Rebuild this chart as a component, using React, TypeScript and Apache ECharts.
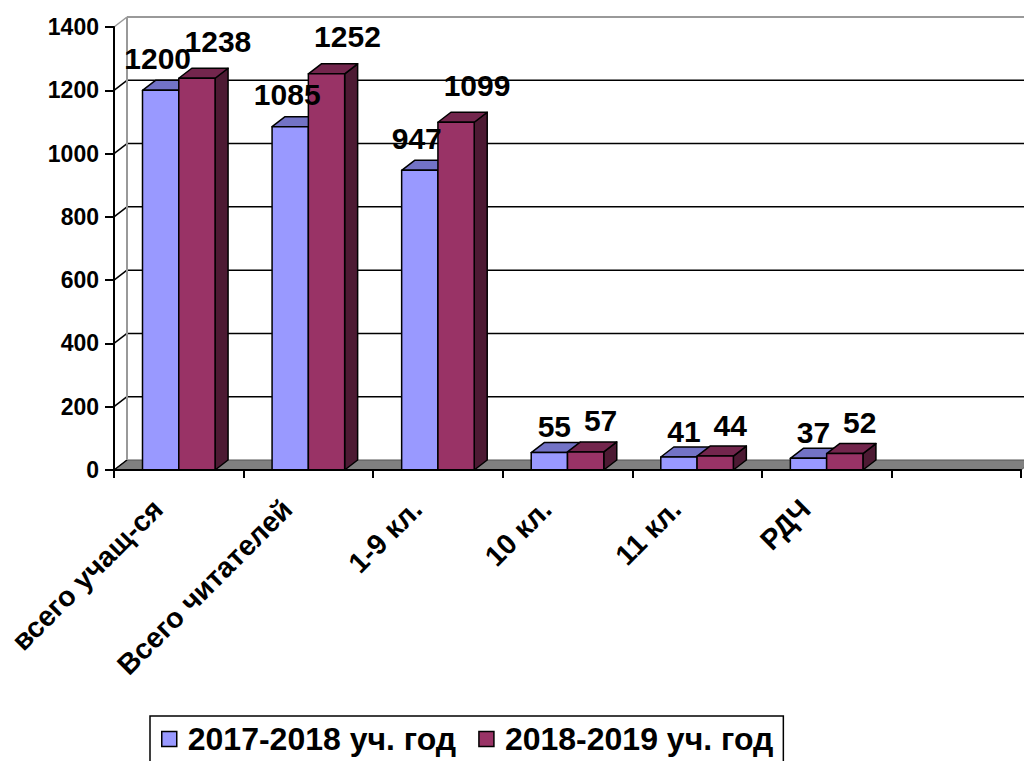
import React, { useEffect, useRef } from "react";
import * as echarts from "echarts";

const categories = ["всего учащ-ся", "Всего читателей", "1-9 кл.", "10 кл.", "11 кл.", "РДЧ", ""];
const seriesNames = ["2017-2018 уч. год", "2018-2019 уч. год"];
const values2017 = [1200, 1085, 947, 55, 41, 37];
const values2018 = [1238, 1252, 1099, 57, 44, 52];
const yTicks = [0, 200, 400, 600, 800, 1000, 1200, 1400];

const FONT = '"Liberation Sans", Arial, sans-serif';
const DX = 13;
const DY = -10;
const BAR_FRAC = 0.28;

const palettes = [
  { front: "#9999FF", top: "#7373C6", side: "#5C5C99" },
  { front: "#993366", top: "#73264D", side: "#4D1A33" },
];

function barGeom(api: any, s: number) {
  const i = api.value(0);
  const v = api.value(1);
  const base = api.coord([i, 0]);
  const top = api.coord([i, v]);
  const bw = api.size([1, 0])[0];
  const w = bw * BAR_FRAC;
  const x0 = s === 0 ? base[0] - w : base[0];
  return { x0, x1: x0 + w, yb: base[1], yt: top[1], v, w };
}

function makeBarRender(s: number) {
  return (params: any, api: any) => {
    const { x0, x1, yb, yt } = barGeom(api, s);
    const p = palettes[s];
    const st = { stroke: "#000", lineWidth: 1.5, lineJoin: "round" };
    return {
      type: "group",
      children: [
        {
          type: "polygon",
          shape: { points: [[x1, yt], [x1 + DX, yt + DY], [x1 + DX, yb + DY], [x1, yb]] },
          style: { fill: p.side, ...st },
        },
        {
          type: "polygon",
          shape: { points: [[x0, yt], [x1, yt], [x1 + DX, yt + DY], [x0 + DX, yt + DY]] },
          style: { fill: p.top, ...st },
        },
        {
          type: "rect",
          shape: { x: x0, y: yt, width: x1 - x0, height: yb - yt },
          style: { fill: p.front, ...st },
        },
      ],
    };
  };
}

function makeLabelRender(s: number) {
  return (params: any, api: any) => {
    const { x0, x1, yt, v } = barGeom(api, s);
    const small = v < 100;
    const cx = (x0 + x1) / 2 + (s === 0 ? (small ? 5 : -3) : (small ? 15 : 21));
    const cy = yt - (s === 0 ? (small ? 11 : 17) : (small ? 16 : 22));
    return {
      type: "text",
      style: {
        text: String(v),
        x: cx,
        y: cy,
        align: "center",
        verticalAlign: "bottom",
        fontSize: 30,
        fontWeight: "bold",
        fontFamily: FONT,
        fill: "#000",
      },
    };
  };
}

function renderFrame(params: any, api: any) {
  const v = api.value(1);
  const cs = params.coordSys;
  const left = cs.x;
  const right = cs.x + cs.width;
  const y = api.coord([0, v])[1];
  const y0 = api.coord([0, 0])[1];
  const isTop = v === yTicks[yTicks.length - 1];
  const children: any[] = [];
  if (v === 0) {
    children.push({
      type: "polygon",
      shape: { points: [[left, y], [right, y], [right + DX, y + DY], [left + DX, y + DY]] },
      style: { fill: "#808080", stroke: "#555", lineWidth: 1 },
    });
  } else {
    children.push({
      type: "line",
      shape: { x1: left + DX, y1: y + DY, x2: right + DX, y2: y + DY },
      style: { stroke: isTop ? "#999" : "#000", lineWidth: isTop ? 2 : 1.5 },
    });
  }
  children.push({
    type: "line",
    shape: { x1: left, y1: y, x2: left + DX, y2: y + DY },
    style: { stroke: isTop ? "#999" : "#000", lineWidth: 1.5 },
  });
  if (isTop) {
    children.push({
      type: "line",
      shape: { x1: left + DX, y1: y + DY, x2: left + DX, y2: y0 + DY },
      style: { stroke: "#999", lineWidth: 2 },
    });
  }
  return { type: "group", children };
}

export default function App() {
  const ref = useRef<HTMLDivElement>(null);
  useEffect(() => {
    if (!ref.current) return;
    const chart = echarts.init(ref.current, undefined, { renderer: "svg" });
    const d0 = values2017.map((v, i) => [i, v]);
    const d1 = values2018.map((v, i) => [i, v]);
    chart.setOption({
      animation: false,
      backgroundColor: "#fff",
      grid: { left: 114, top: 27, width: 907, height: 443, containLabel: false },
      legend: {
        data: seriesNames,
        left: 150,
        top: 716,
        orient: "horizontal",
        borderColor: "#000",
        borderWidth: 1.5,
        padding: [7, 10, 20, 11],
        itemGap: 22,
        itemWidth: 15,
        itemHeight: 15,
        icon: "rect",
        itemStyle: { borderColor: "#000", borderWidth: 1.5 },
        textStyle: { fontSize: 32, fontWeight: "bold", fontFamily: FONT, color: "#000", padding: [0, 0, 0, 6] },
      },
      xAxis: {
        type: "category",
        data: categories,
        z: 5,
        axisLine: { show: true, lineStyle: { color: "#000", width: 2 } },
        axisTick: { show: true, length: 8, lineStyle: { color: "#000", width: 2 } },
        axisLabel: {
          rotate: 45,
          interval: 0,
          margin: 13,
          padding: [0, 30, 0, 0],
          fontSize: 28.5,
          fontWeight: "bold",
          fontFamily: FONT,
          color: "#000",
        },
        splitLine: { show: false },
      },
      yAxis: {
        type: "value",
        min: 0,
        max: 1400,
        interval: 200,
        z: 5,
        axisLine: { show: true, lineStyle: { color: "#000", width: 2 } },
        axisTick: { show: true, length: 9, lineStyle: { color: "#000", width: 2 } },
        axisLabel: {
          margin: 15,
          fontSize: 23,
          fontWeight: "bold",
          fontFamily: FONT,
          color: "#000",
          formatter: (v: number) => String(v),
        },
        splitLine: { show: false },
      },
      series: [
        {
          type: "custom",
          name: "frame",
          z: 1,
          silent: true,
          renderItem: renderFrame,
          data: yTicks.map((v) => [0, v]),
        },
        {
          type: "custom",
          name: seriesNames[0],
          z: 2,
          itemStyle: { color: palettes[0].front, borderColor: "#000", borderWidth: 1.5 },
          renderItem: makeBarRender(0),
          data: d0,
        },
        {
          type: "custom",
          name: seriesNames[1],
          z: 3,
          itemStyle: { color: palettes[1].front, borderColor: "#000", borderWidth: 1.5 },
          renderItem: makeBarRender(1),
          data: d1,
        },
        {
          type: "custom",
          name: "labels0",
          z: 4,
          renderItem: makeLabelRender(0),
          data: d0,
        },
        {
          type: "custom",
          name: "labels1",
          z: 4,
          renderItem: makeLabelRender(1),
          data: d1,
        },
      ],
    });
    return () => chart.dispose();
  }, []);
  return (
    <div
      ref={ref}
      style={{ position: "fixed", left: 0, top: 0, width: 1024, height: 761, background: "#fff" }}
    />
  );
}
